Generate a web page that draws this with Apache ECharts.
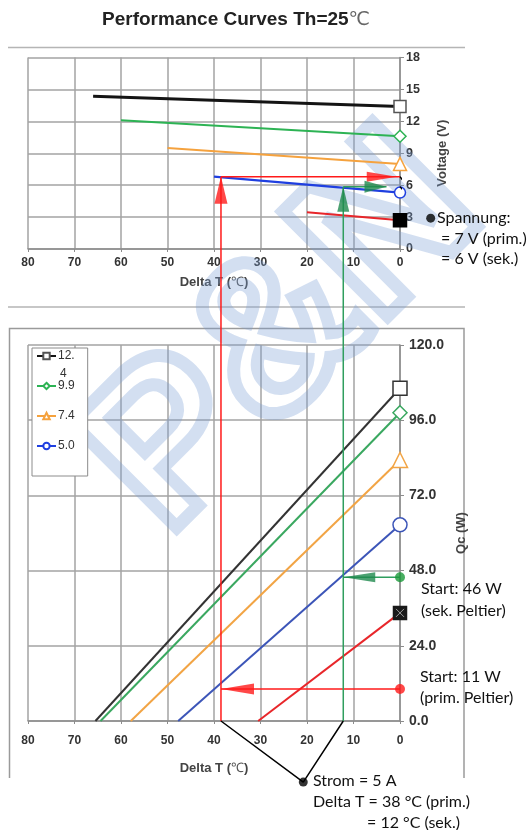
<!DOCTYPE html>
<html><head><meta charset="utf-8">
<script src="https://cdn.jsdelivr.net/npm/echarts@6/dist/echarts.min.js"></script>
<style>html,body{margin:0;padding:0;background:#fff}#c{width:529px;height:830px}</style>
</head><body><div id="c"></div>
<script>
// ---------- data ----------
const xTicks = [80, 70, 60, 50, 40, 30, 20, 10, 0];
const vTicks = [0, 3, 6, 9, 12, 15, 18];
const qTicks = [0, 24, 48, 72, 96, 120];
const legendNames = ['12.4', '9.9', '7.4', '5.0'];
// Voltage (V) vs Delta T
const vBlack  = [[66, 14.35], [0, 13.4]];
const vGreen  = [[60, 12.1], [0, 10.6]];
const vOrange = [[50, 9.5], [0, 8.0]];
const vBlue   = [[40, 6.8], [0, 5.3]];
const vRed    = [[20, 3.45], [0, 2.7]];
// Qc (W) vs Delta T
const qBlack  = [[65.5, 0], [0, 106.2]];
const qGreen  = [[64.4, 0], [0, 98.4]];
const qOrange = [[57.9, 0], [0, 83.3]];
const qBlue   = [[47.7, 0], [0, 62.6]];
const qRed    = [[30.5, 0], [0, 34.5]];
// operating points (primary / secondary Peltier)
const primDT = 38.5, primV = 6.8, primQ = 10.2;
const secDT = 12.2, secV = 5.85, secQ = 45.9;
const topDot = [-6.6, 2.9];     // connector point (top chart coords)
const botDot = [20.8, -19.5];   // connector point (bottom chart coords)

// ---------- chart ----------
const chart = echarts.init(document.getElementById('c'));
const FONT = "'Liberation Sans', Arial, sans-serif";
const NARROW = "'Liberation Sans Narrow', 'Liberation Sans', Arial, sans-serif";
const RED = '#ff1a1a', GRN = '#2f9e5e', GRN_A = '#1f8a4e';
const ANN = "16px Lato, 'Open Sans', sans-serif";

function curve(name, data, gi, color, width, sym, size, fill, border) {
  return {
    type: 'line', name: name, xAxisIndex: gi, yAxisIndex: gi,
    data: data.map((d, i) => i === data.length - 1 ? { value: d } : { value: d, symbol: 'none' }),
    lineStyle: { color: color, width: width },
    symbol: sym, symbolSize: size, showSymbol: true,
    itemStyle: { color: fill, borderColor: border || color, borderWidth: 1.5 },
    z: 3, clip: false, silent: true, animation: false
  };
}
function seg(data, gi, color, width, z) {
  return { type: 'line', xAxisIndex: gi, yAxisIndex: gi, data: data, symbol: 'none',
    lineStyle: { color: color, width: width }, clip: false, silent: true, animation: false, z: z || 5 };
}
function pts(data, gi, sym, size, color, rot, off, extra) {
  return Object.assign({ type: 'scatter', xAxisIndex: gi, yAxisIndex: gi, data: data, symbol: sym,
    symbolSize: size, symbolRotate: rot || 0, symbolOffset: off || [0, 0],
    itemStyle: { color: color }, clip: false, silent: true, animation: false, z: 6 }, extra || {});
}
function txt(x, y, t) {
  return { type: 'text', x: x, y: y, z: 10, style: { text: t, font: ANN, fill: '#111', verticalAlign: 'middle' } };
}

const gridLine = { show: true, lineStyle: { color: '#a3a3a3', width: 1.5 } };
function xAxis(gi, margin, nameGap) {
  return {
    type: 'value', gridIndex: gi, min: 0, max: 80, interval: 10, inverse: true, position: 'bottom',
    axisLine: { show: true, onZero: false, lineStyle: { color: '#8c8c8c', width: 1.5 } },
    axisTick: { show: true, length: 3, lineStyle: { color: '#8c8c8c' } },
    splitLine: gridLine,
    axisLabel: { margin: margin, fontFamily: FONT, fontWeight: 'bold', fontSize: 12, color: '#333',
      formatter: v => xTicks.indexOf(v) >= 0 ? String(v) : '' },
    name: 'Delta T ({b|℃})', nameLocation: 'middle', nameGap: nameGap,
    nameTextStyle: { fontFamily: FONT, fontWeight: 'bold', fontSize: 13, color: '#444',
      rich: { b: { fontFamily: FONT, fontWeight: 'normal', fontSize: 13, color: '#555' } } }
  };
}
function yAxis(gi, ticks, fmt, margin, name, nameGap) {
  return {
    type: 'value', gridIndex: gi, position: 'right', min: ticks[0], max: ticks[ticks.length - 1],
    interval: ticks[1] - ticks[0],
    axisLine: { show: true, lineStyle: { color: '#8c8c8c', width: 1.5 } },
    axisTick: { show: true, length: 4, lineStyle: { color: '#8c8c8c' } },
    splitLine: gridLine,
    axisLabel: { margin: margin, fontFamily: gi === 0 ? FONT : NARROW, fontWeight: 'bold',
      fontSize: gi === 0 ? 12.5 : 14, color: '#333', formatter: fmt },
    name: name, nameLocation: 'middle', nameRotate: 90, nameGap: nameGap,
    nameTextStyle: { fontFamily: FONT, fontWeight: 'bold', fontSize: 13, color: '#444' }
  };
}

const option = {
  backgroundColor: '#fff',
  animation: false,
  grid: [
    { left: 28, top: 57.5, width: 372, height: 191.5 },
    { left: 28, top: 345, width: 372, height: 376 }
  ],
  xAxis: [xAxis(0, 8, 27), xAxis(1, 14, 41)],
  yAxis: [
    yAxis(0, vTicks, v => String(v), 6, 'Voltage (V)', 36),
    yAxis(1, qTicks, v => v.toFixed(1), 9, 'Qc (W)', 41)
  ],
  legend: {
    left: 32, top: 348, orient: 'vertical', itemGap: 18, itemWidth: 19, itemHeight: 8,
    padding: [2, 13, 24, 4], backgroundColor: '#fff', borderColor: '#8c8c8c', borderWidth: 1,
    data: legendNames, selectedMode: false,
    formatter: n => n === '12.4' ? '12.' : n,
    textStyle: { fontFamily: NARROW, fontSize: 12, color: '#333', padding: [0, 0, 0, -3] }
  },
  graphic: [
    { type: 'text', x: 236, y: 20, z: 10, style: { text: '{a|Performance Curves Th=25}{b|℃}',
      align: 'center', verticalAlign: 'middle',
      rich: { a: { font: "bold 19px 'Liberation Sans', Arial", fill: '#222' },
              b: { font: "19px 'DejaVu Sans', sans-serif", fill: '#666' } } } },
    { type: 'line', shape: { x1: 8, y1: 47.5, x2: 465, y2: 47.5 }, style: { stroke: '#b5b5b5', lineWidth: 1.5 }, z: 0 },
    { type: 'line', shape: { x1: 8, y1: 307, x2: 465, y2: 307 }, style: { stroke: '#b5b5b5', lineWidth: 1.5 }, z: 0 },
    { type: 'polyline', shape: { points: [[9.5, 778], [9.5, 328.5], [464, 328.5], [464, 778]] },
      style: { stroke: '#9a9a9a', fill: null, lineWidth: 1.5 }, z: 0 },
    { type: 'text', x: 60, y: 367.5, style: { text: '4', font: "12px 'Liberation Sans Narrow', 'Liberation Sans'", fill: '#333' }, z: 20 },
    txt(437, 218, 'Spannung:'),
    txt(441, 239, '= 7 V (prim.)'),
    txt(441, 259, '= 6 V (sek.)'),
    txt(421, 589, 'Start: 46 W'),
    txt(421, 610.5, '(sek. Peltier)'),
    txt(420, 677, 'Start: 11 W'),
    txt(420, 697.5, '(prim. Peltier)'),
    txt(313, 781, 'Strom = 5 A'),
    txt(313, 802, 'Delta T = 38 °C (prim.)'),
    txt(367, 823, '= 12 °C (sek.)'),
    // watermark
    { type: 'text', x: 285, y: 335, rotation: 45 * Math.PI / 180, z: 2, silent: true,
      style: { text: 'P&N', font: "bold 215px 'Liberation Sans', Arial", fill: null,
        stroke: 'rgba(120,158,212,0.33)', lineWidth: 13, align: 'center', verticalAlign: 'middle' } }
  ],
  series: [
    // top: voltage
    curve('12.4', vBlack, 0, '#141414', 3, 'rect', 12, '#fff', '#555'),
    curve('9.9', vGreen, 0, '#2db354', 2, 'diamond', 12, '#fff'),
    curve('7.4', vOrange, 0, '#f5a23e', 2, 'triangle', 13, '#fff'),
    curve('5.0', vBlue, 0, '#1f3fe0', 2.2, 'circle', 11, '#fff'),
    curve('red', vRed, 0, '#e8262a', 2, 'rect', 13, '#000', '#000'),
    // bottom: Qc
    curve('12.4', qBlack, 1, '#333333', 2, 'rect', 14, '#fff', '#333'),
    curve('9.9', qGreen, 1, '#3aa860', 2, 'diamond', 14, '#fff'),
    curve('7.4', qOrange, 1, '#f2a444', 2, 'triangle', 15, '#fff'),
    curve('5.0', qBlue, 1, '#3c55b8', 2, 'circle', 14, '#fff'),
    curve('red', qRed, 1, '#e8262a', 2, 'rect', 13, '#1a1a1a', '#1a1a1a'),
    pts([qRed[qRed.length - 1]], 1, 'path://M0,0L10,10M10,0L0,10', 8, 'none', 0, [0, 0],
      { itemStyle: { color: 'none', borderColor: '#bbb', borderWidth: 1 }, z: 7 }),
    // annotations: horizontal arrows
    seg([[primDT, primV], [0, primV]], 0, RED, 1.5),
    seg([[secDT, secV], [2.9, secV]], 0, GRN, 1.5),
    seg([[0, primQ], [primDT, primQ]], 1, RED, 1.5),
    seg([[0, secQ], [secDT, secQ]], 1, GRN, 1.5),
    // vertical lines (bottom part)
    seg([[primDT, 0], [primDT, 120]], 1, RED, 1.5),
    seg([[secDT, 0], [secDT, 120]], 1, GRN, 1.5),
    // connectors
    seg([[0, primV], topDot, [0, secV]], 0, '#000', 1.5, 7),
    seg([[primDT, 0], botDot, [secDT, 0]], 1, '#000', 1.5, 7),
    pts([topDot], 0, 'circle', 9, '#000'),
    pts([botDot], 1, 'circle', 9, '#000'),
    // start dots
    pts([[0, primQ]], 1, 'circle', 10, '#ff1a1a'),
    pts([[0, secQ]], 1, 'circle', 10, '#1a9a3a'),
    // arrowheads
    pts([[0.7, primV]], 0, 'triangle', [10, 30], RED, -90, [-15, 0]),
    pts([[2.9, secV]], 0, 'triangle', [12, 22], GRN_A, -90, [-11, 0]),
    pts([[primDT, primV]], 0, 'triangle', [13, 27], RED, 0, [0, 13.5]),
    pts([[secDT, secV]], 0, 'triangle', [12, 25], GRN_A, 0, [0, 12.5]),
    pts([[primDT, primQ]], 1, 'triangle', [11, 33], RED, 90, [16.5, 0]),
    pts([[secDT, secQ]], 1, 'triangle', [10, 32], GRN_A, 90, [16, 0])
  ]
};
chart.setOption(option);

// upper part of the vertical lines: from top of lower chart up to the voltage curve
const yGap = chart.convertToPixel({ gridIndex: 1 }, [0, 120])[1];
const vGap = chart.convertFromPixel({ gridIndex: 0 }, [0, yGap])[1];
const s = option.series.slice();
s.push(seg([[primDT, vGap], [primDT, primV]], 0, RED, 1.5));
s.push(seg([[secDT, vGap], [secDT, secV]], 0, GRN, 1.5));
chart.setOption({ series: s });
</script>
</body></html>
